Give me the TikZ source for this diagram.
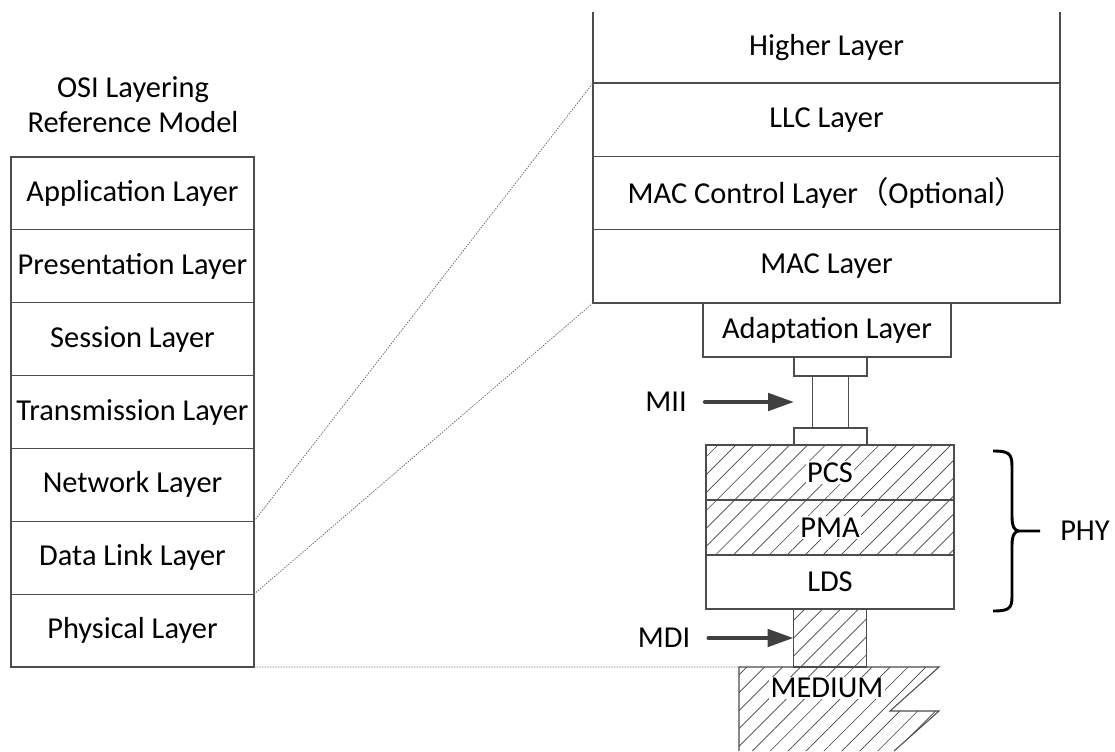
\documentclass[tikz,border=0pt]{standalone}
\usepackage{fontspec}
\setmainfont{Carlito}
\newfontfamily\cjkfont{Noto Sans CJK SC}
\usetikzlibrary{positioning,arrows.meta,patterns.meta}

\tikzset{
  boxline/.style={draw=black!70,line width=0.8pt},
  osilayer/.style={boxline,minimum width=182.25pt,minimum height=54.64pt,inner sep=0pt,outer sep=0pt},
  ieeelayer/.style={boxline,minimum width=350.25pt,minimum height=55pt,inner sep=0pt,outer sep=0pt},
  phybox/.style={boxline,minimum width=186pt,inner sep=0pt,outer sep=0pt},
  miibox/.style={boxline,inner sep=0pt,outer sep=0pt},
  hatched/.style={pattern={Lines[angle=45,distance=9.5pt,line width=0.5pt]},pattern color=black!75},
  hatchlabel/.style={fill=white,inner sep=1pt},
  dotline/.style={black!60,line width=0.6pt,dash pattern=on 1pt off 1pt},
  bigarrow/.style={draw=black!75,line width=3pt,line cap=round,-{Triangle[length=19.5pt,width=13pt]}},
}

\begin{document}
\begin{tikzpicture}[x=0.75pt,y=0.75pt,yscale=-1,xscale=1,font=\fontsize{22.8pt}{26.3pt}\selectfont]
\useasboundingbox (0,0) rectangle (1115,751);

% OSI model
\node[align=center] (osititle) at (133,105) {OSI Layering\\Reference Model};
\node[osilayer,anchor=north] (app) at (132.5,157) {Application Layer};
\node[osilayer,below=0pt of app] (pres) {Presentation Layer};
\node[osilayer,below=0pt of pres] (sess) {Session Layer};
\node[osilayer,below=0pt of sess] (trans) {Transmission Layer};
\node[osilayer,below=0pt of trans] (net) {Network Layer};
\node[osilayer,below=0pt of net] (dl) {Data Link Layer};
\node[osilayer,below=0pt of dl] (phys) {Physical Layer};

% upper layers
\node[ieeelayer,draw=none,minimum height=53.25pt,anchor=north] (higher) at (826.5,12) {Higher Layer};
\node[ieeelayer,below=0pt of higher] (llc) {LLC Layer};
\node[ieeelayer,below=0pt of llc] (macctl) {MAC Control Layer{\cjkfont （}Optional{\cjkfont ）}};
\node[ieeelayer,below=0pt of macctl] (mac) {MAC Layer};
\draw[boxline] (higher.north west) -- (higher.south west) (higher.north east) -- (higher.south east);

% adaptation and MII
\node[phybox,minimum height=40.5pt,anchor=north] (adapt) at (827,303) {Adaptation Layer};
\node[miibox,minimum width=54.75pt,minimum height=14.25pt,anchor=north] (miitop) at (830.5,357) {};
\node[miibox,minimum width=27pt,minimum height=39pt,below=0pt of miitop] (miimid) {};
\node[miibox,minimum width=54.75pt,minimum height=12.75pt,below=0pt of miimid] (miibot) {};

% PHY sublayers
\node[phybox,hatched,minimum height=41.25pt,anchor=north] (pcs) at (830,445) {};
\node[phybox,hatched,minimum height=41.25pt,below=0pt of pcs] (pma) {};
\node[phybox,minimum height=40.5pt,below=0pt of pma] (lds) {LDS};
\node[hatchlabel] (pcstext) at (pcs) {PCS};
\node[hatchlabel] (pmatext) at (pma) {PMA};
\node[miibox,hatched,minimum width=54.75pt,minimum height=43.5pt,below=0pt of lds] (mdicol) {};

% medium
\coordinate (medtl) at (739,667);
\path[hatched] (medtl) -- (939,667) -- (890,711) -- (939,711) -- (894,751) -- (739,751) -- cycle;
\draw[boxline] (739,751) -- (medtl) -- (939,667) -- (890,711) -- (939,711) -- (894,751);
\node[hatchlabel] (medium) at (827,688) {MEDIUM};

% interfaces
\node[inner sep=0pt] (mii) at (666,402) {MII};
\draw[bigarrow] ([xshift=13.5pt]mii.east) -- (miimid.west -| miitop.west);
\node[inner sep=0pt] (mdi) at (664,638) {MDI};
\draw[bigarrow] ([xshift=13.5pt]mdi.east) -- (mdicol.west);

% PHY brace
\node[inner sep=0pt] (phy) at (1085,531) {PHY};
\draw[line width=2.2pt] (993,451) .. controls (1008,451) and (1012,453) .. (1012,466) -- (1012,517)
  .. controls (1012,527) and (1015,531) .. (1019,531) -- (1040,531)
  (1019,531) .. controls (1015,531) and (1012,535) .. (1012,545) -- (1012,597)
  .. controls (1012,609) and (1008,611) .. (993,611);

% mapping lines
\draw[dotline] (dl.north east) -- (llc.north west);
\draw[dotline] (phys.north east) -- (mac.south west);
\draw[dotline] (phys.south east) -- (medtl);

\end{tikzpicture}
\end{document}
